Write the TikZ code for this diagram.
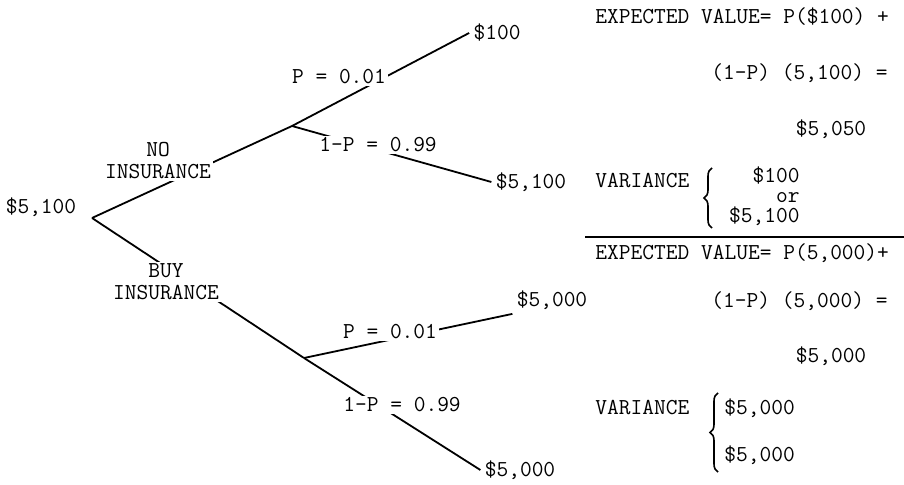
\documentclass[tikz,border=0pt]{standalone}
\usepackage{fontspec}
\usetikzlibrary{decorations.pathreplacing}
\tikzset{
  txt/.style={font=\ttfamily\fontsize{11.4}{11}\selectfont, inner sep=1pt},
  lbl/.style={txt, fill=white, align=center},
  leaf/.style={txt, inner sep=2pt},
  branch/.style={line width=0.9pt},
  brc/.style={decorate, decoration={brace, amplitude=4pt}, line width=0.8pt},
}

\begin{document}
\begin{tikzpicture}[x=0.5pt, y=-0.5pt]
  \useasboundingbox (0,0) rectangle (904,485);
  % tree: root, forks and leaves
  \node[txt] (root) at (41,207) {\$5,100};
  \coordinate (r)  at (92,218);
  \coordinate (fa) at (292,126);
  \coordinate (fb) at (304,358);
  \node[leaf] (va) at (497,33)  {\$100};
  \node[leaf] (wa) at (531,182) {\$5,100};
  \node[leaf] (vb) at (552,300) {\$5,000};
  \node[leaf] (wb) at (520,470) {\$5,000};
  \draw[branch] (r)  -- (fa);
  \draw[branch] (r)  -- (fb);
  \draw[branch] (fa) -- (va.west);
  \draw[branch] (fa) -- (wa.west);
  \draw[branch] (fb) -- (vb.south west);
  \draw[branch] (fb) -- (wb.west);
  % labels on the branches
  \node[lbl] (noins) at (158,161) {NO\\INSURANCE};
  \node[lbl] (buyins) at (166,282) {BUY\\INSURANCE};
  \node[lbl] (pa) at (339,77)  {P = 0.01};
  \node[lbl] (qa) at (378,145) {1-P = 0.99};
  \node[lbl] (pb) at (390,332) {P = 0.01};
  \node[lbl] (qb) at (402,405) {1-P = 0.99};
  % upper result
  \node[txt, anchor=west] (eva)  at (593,17)  {EXPECTED VALUE= P(\$100) +};
  \node[txt, anchor=east] (evb)  at (890,73)  {(1-P) (5,100) =};
  \node[txt]              (evc)  at (831,129) {\$5,050};
  \node[txt, anchor=west] (vara) at (593,181) {VARIANCE};
  \node[txt, align=right, anchor=north east] (varx) at (802,164)
    {\$100\\[-1pt]or\\[-1pt]\$5,100};
  \coordinate (bra1) at (712,228);
  \coordinate (bra2) at (712,168);
  \draw[brc] (bra1) -- (bra2);
  % rule
  \coordinate (ruleL) at (585,237);
  \coordinate (ruleR) at (904,237);
  \draw[line width=0.8pt] (ruleL) -- (ruleR);
  % lower result
  \node[txt, anchor=west] (evd)  at (593,253) {EXPECTED VALUE= P(5,000)+};
  \node[txt, anchor=east] (eve)  at (890,301) {(1-P) (5,000) =};
  \node[txt]              (evf)  at (831,356) {\$5,000};
  \node[txt, anchor=west] (varb) at (593,408) {VARIANCE};
  \node[txt, anchor=west] (varb1) at (722,408) {\$5,000};
  \node[txt, anchor=west] (varb2) at (722,455) {\$5,000};
  \coordinate (brb1) at (718,472);
  \coordinate (brb2) at (718,393);
  \draw[brc] (brb1) -- (brb2);
\end{tikzpicture}
\end{document}
